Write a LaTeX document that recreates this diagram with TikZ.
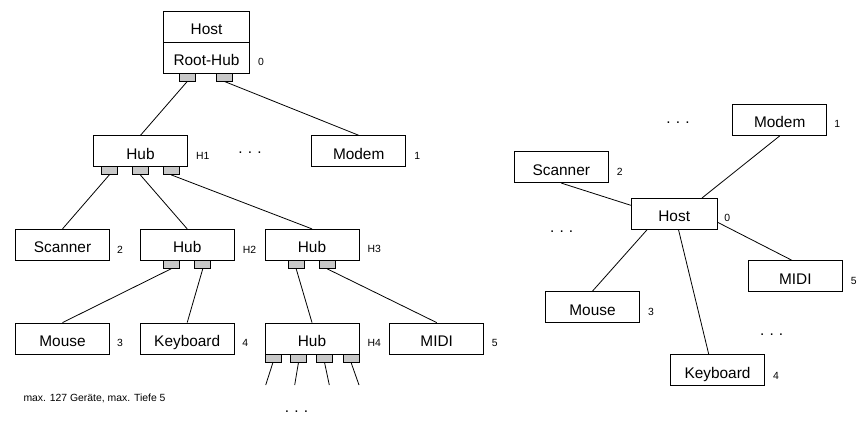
\documentclass[tikz,border=0pt]{standalone}
\usepackage{fontspec}
\setmainfont{Liberation Sans}
\usetikzlibrary{calc}
\definecolor{portgray}{RGB}{200,200,200}
\begin{document}
\begin{tikzpicture}[x=1pt,y=-1pt,
  dev/.style={draw,line width=0.8pt,minimum width=94pt,minimum height=31pt,inner sep=0pt,text height=16pt,text depth=0pt,font=\fontsize{15.4}{18}\selectfont},
  hostbox/.style={dev,minimum width=86pt},
  port/.style={draw,line width=0.8pt,fill=portgray,minimum width=16pt,minimum height=8pt,inner sep=0pt},
  lbl/.style={anchor=west,inner sep=0pt,font=\fontsize{10.4}{12}\selectfont},
  dots/.style={inner sep=0pt,font=\fontsize{15.4}{18}\selectfont},
  wire/.style={line width=0.8pt}]
\useasboundingbox (0,0) rectangle (866,422);

% ---------- left: tree ----------
\node[hostbox] (host) at (206.5,26.7) {Host};
\node[hostbox] (root) at (206.5,57.7) {Root-Hub};
\node[port] (rp1) at (187.3,77) {};
\node[port] (rp2) at (224.3,77) {};

\node[dev] (h1) at (140.5,151.2) {Hub};
\node[port] (h1p1) at (109.3,170.5) {};
\node[port] (h1p2) at (140.3,170.5) {};
\node[port] (h1p3) at (171.3,170.5) {};
\node[dev] (modem) at (358.7,151.2) {Modem};

\node[dev] (scan) at (62.5,244.8) {Scanner};
\node[dev] (h2) at (187.2,244.8) {Hub};
\node[port] (h2p1) at (171.3,264.3) {};
\node[port] (h2p2) at (202.8,264.3) {};
\node[dev] (h3) at (312,244.8) {Hub};
\node[port] (h3p1) at (296.2,264.5) {};
\node[port] (h3p2) at (327.3,264.5) {};

\node[dev] (mouse) at (62.5,338.5) {Mouse};
\node[dev] (kbd) at (187.2,338.5) {Keyboard};
\node[dev] (h4) at (312,338.5) {Hub};
\node[port] (h4p1) at (273,357.9) {};
\node[port] (h4p2) at (298.5,357.9) {};
\node[port] (h4p3) at (324.5,357.9) {};
\node[port] (h4p4) at (351,357.9) {};
\node[dev] (midi) at (436.7,338.5) {MIDI};

\coordinate (e1) at (265.7,385);
\coordinate (e2) at (294.7,385);
\coordinate (e3) at (329.3,385);
\coordinate (e4) at (359,385);

\draw[wire] (rp1.south) -- (h1.north);
\draw[wire] (rp2.south) -- (modem.north);
\draw[wire] (h1p1.south) -- (scan.north);
\draw[wire] (h1p2.south) -- (h2.north);
\draw[wire] (h1p3.south) -- (h3.north);
\draw[wire] (h2p1.south) -- (mouse.north);
\draw[wire] (h2p2.south) -- (kbd.north);
\draw[wire] (h3p1.south) -- (h4.north);
\draw[wire] (h3p2.south) -- (midi.north);
\draw[wire] (h4p1.south) -- (e1);
\draw[wire] (h4p2.south) -- (e2);
\draw[wire] (h4p3.south) -- (e3);
\draw[wire] (h4p4.south) -- (e4);

\node[lbl] (l0) at ($(root.east)+(8,4.5)$) {0};
\node[lbl] (lh1) at ($(h1.east)+(8,4.5)$) {H1};
\node[lbl] (l1) at ($(modem.east)+(8,4.5)$) {1};
\node[lbl] (l2) at ($(scan.east)+(7,5)$) {2};
\node[lbl] (lh2) at ($(h2.east)+(8,5)$) {H2};
\node[lbl] (lh3) at ($(h3.east)+(8,4.5)$) {H3};
\node[lbl] (l3) at ($(mouse.east)+(7,4.5)$) {3};
\node[lbl] (l4) at ($(kbd.east)+(7.5,4.5)$) {4};
\node[lbl] (lh4) at ($(h4.east)+(8,4.5)$) {H4};
\node[lbl] (l5) at ($(midi.east)+(7.5,4.5)$) {5};

\node[dots] (d1) at (250,153) {.\,\,.\,\,.};
\node[dots] (d2) at (296.5,411.5) {.\,\,.\,\,.};
\node[lbl] (note) at (23.3,398.7) {max. 127 Geräte, max. Tiefe 5};

% ---------- right: star ----------
\node[hostbox] (shost) at (674.2,213.8) {Host};
\node[dev] (smodem) at (779.7,120) {Modem};
\node[dev] (sscan) at (561.3,167.2) {Scanner};
\node[dev] (smouse) at (592.5,307) {Mouse};
\node[dev] (skbd) at (717.5,370) {Keyboard};
\node[dev] (smidi) at (795.3,276.2) {MIDI};

\draw[wire] ($(shost.north west)+(71.3,0)$) -- (smodem.south);
\draw[wire] ($(shost.north west)+(0,7.4)$) -- (sscan.south);
\draw[wire] ($(shost.south west)+(16.3,0)$) -- (smouse.north);
\draw[wire] ($(shost.south west)+(47.7,0)$) -- ($(skbd.north west)+(38.6,0)$);
\draw[wire] ($(shost.north east)+(0,24.4)$) -- ($(smidi.north west)+(44,0)$);

\node[lbl] (s0) at ($(shost.east)+(6.5,4.5)$) {0};
\node[lbl] (s1) at ($(smodem.east)+(7,4)$) {1};
\node[lbl] (s2) at ($(sscan.east)+(8,4.5)$) {2};
\node[lbl] (s3) at ($(smouse.east)+(8,4.5)$) {3};
\node[lbl] (s4) at ($(skbd.east)+(8,5.5)$) {4};
\node[lbl] (s5) at ($(smidi.east)+(8,5)$) {5};

\node[dots] (d3) at (678,122.5) {.\,\,.\,\,.};
\node[dots] (d4) at (561.7,232) {.\,\,.\,\,.};
\node[dots] (d5) at (771.7,335) {.\,\,.\,\,.};
\end{tikzpicture}
\end{document}
